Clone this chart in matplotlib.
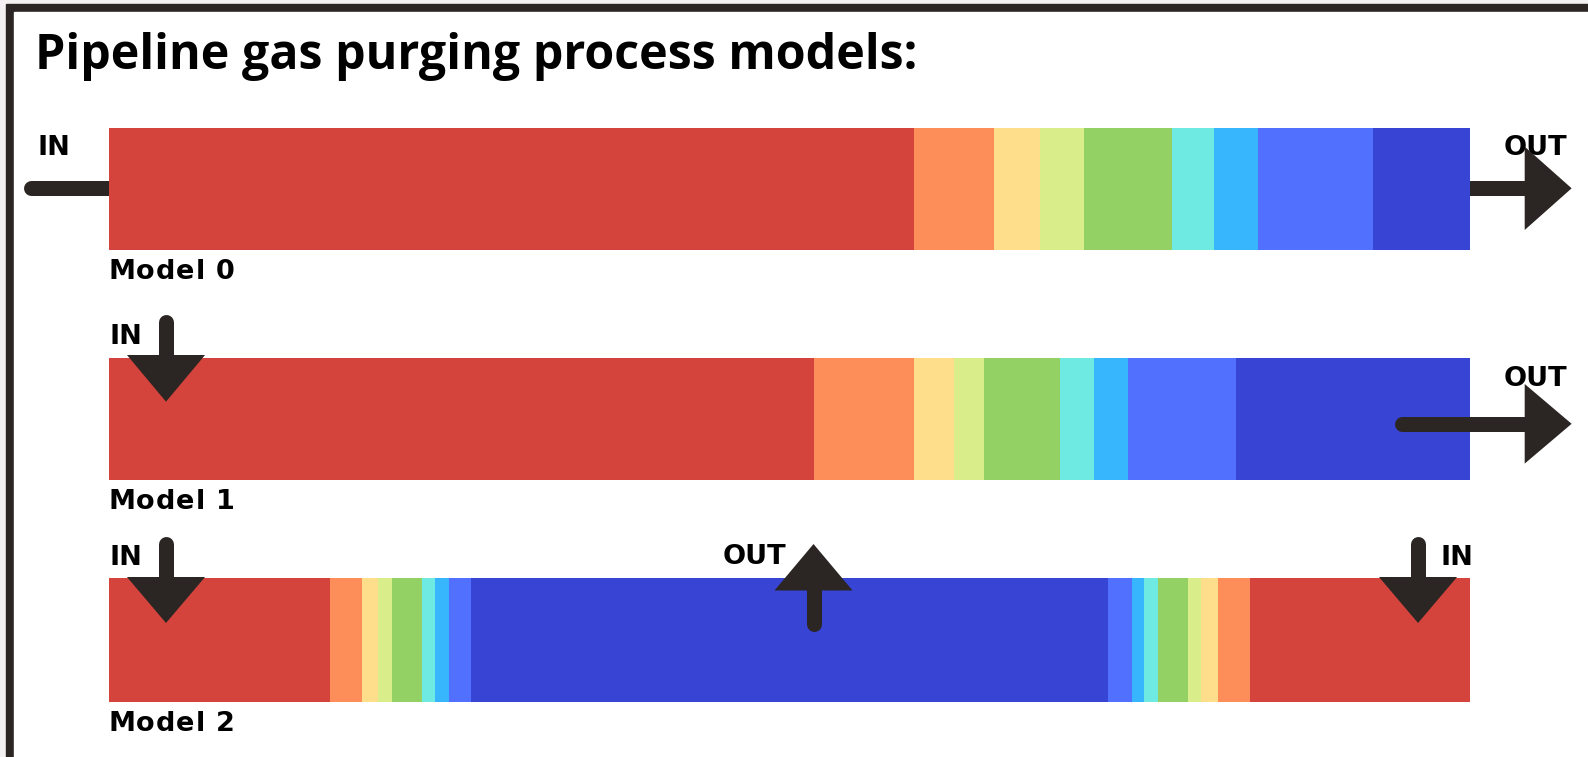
import matplotlib.pyplot as plt
from matplotlib.patches import Rectangle
from matplotlib.transforms import IdentityTransform

# segment lengths along each pipe (% of pipe length), one colour level per segment
model0_len = [59.1, 5.9, 3.4, 3.2, 6.5, 3.1, 3.2, 8.5, 7.1]
model1_len = [51.8, 7.3, 3.0, 2.2, 5.6, 2.5, 2.5, 7.9, 17.2]
model2_len = [16.2, 2.35, 1.2, 1.0, 2.2, 1.0, 1.0, 1.6, 46.85,
              1.75, 0.9, 1.0, 2.2, 1.0, 1.2, 2.35, 16.2]
model0_lvl = [0, 1, 2, 3, 4, 5, 6, 7, 8]
model1_lvl = [0, 1, 2, 3, 4, 5, 6, 7, 8]
model2_lvl = [0, 1, 2, 3, 4, 5, 6, 7, 8, 7, 6, 5, 4, 3, 2, 1, 0]
model_names = ['Model 0', 'Model 1', 'Model 2']

palette = ['#d4443c', '#fd8e5a', '#fede8a', '#d9ee8b', '#94d164',
           '#6eeae2', '#37b6fe', '#5170fe', '#3844d4']
dark = '#2b2624'

plt.rcParams['font.family'] = ['DejaVu Sans']

W, H = 1588, 757
fig = plt.figure(figsize=(W / 100, H / 100), dpi=100, facecolor='#f3f1f1')

# frame: dark top + left edge, white page
fig.patches.append(Rectangle((6 / W, 0), 1, (H - 4) / H, transform=fig.transFigure,
                             color=dark, zorder=-2))
fig.patches.append(Rectangle((14 / W, 0), 1, (H - 12) / H, transform=fig.transFigure,
                             color='white', zorder=-1))

ax = fig.add_axes([0, 0, 1, 1])
ax.set_facecolor('none')
# 0..100 % of pipe length -> pixels 109.4..1470
scale = (1470 - 109.4) / 100
ax.set_xlim(-109.4 / scale, (W - 109.4) / scale)
ax.set_ylim(H, 0)
ax.axis('off')

renderer = fig.canvas.get_renderer()


def text_w(s, **kw):
    t = fig.text(0, 0, s, **kw)
    w = t.get_window_extent(renderer).width
    t.remove()
    return w


def spaced_text(x, y, s, gap, **kw):
    # letter-spaced text, gap in pixels between characters
    x0, y0 = ax.transData.transform((x, y))
    bar_w = text_w('|', **kw)
    for i, ch in enumerate(s):
        if ch == ' ':
            continue
        dx = (text_w(s[:i] + '|', **kw) - bar_w if i else 0) + i * gap
        ax.text(x0 + dx, y0, ch, transform=IdentityTransform(), **kw)


rows = [(model0_len, model0_lvl, 127.5, 122),
        (model1_len, model1_lvl, 357.5, 122),
        (model2_len, model2_lvl, 577.5, 124)]
for (lens, lvls, top, h), name in zip(rows, model_names):
    left = 0
    for w, l in zip(lens, lvls):
        ax.barh(top + h / 2, w, left=left, height=h, color=palette[l], zorder=2)
        left += w
    spaced_text(-0.1, top + h + 29.5, name, 1.0, fontsize=19.5, fontweight='bold',
                va='baseline', ha='left', color='black')

lw = 10.8


def stem(x, y, z=3):
    ax.plot(x, y, color=dark, lw=lw, solid_capstyle='round', zorder=z)


def head(pts):
    xs, ys = zip(*pts)
    ax.fill(xs, ys, color=dark, lw=0, zorder=4)


hw = 2.87   # half width of a vertical head, in % units
# Model 0
stem([-5.73, 0], [188.3, 188.3], z=1)
stem([100, 104.0], [188.3, 188.3], z=1)
head([(104.02, 146.6), (104.02, 230), (107.47, 188.3)])
# Model 1
stem([4.16, 4.16], [321.5, 356])
head([(4.16 - hw, 355), (4.16 + hw, 355), (4.16, 401.7)])
stem([95.0, 104.0], [423.8, 423.8])
head([(104.02, 384), (104.02, 463.6), (107.47, 423.8)])
# Model 2
for xc in [4.16, 96.18]:
    stem([xc, xc], [543.5, 578])
    head([(xc - hw, 577), (xc + hw, 577), (xc, 623)])
stem([51.75, 51.75], [623.5, 590])
head([(51.75 - hw, 590.5), (51.75 + hw, 590.5), (51.75, 544)])

lab = dict(fontsize=19.5, fontweight='bold', va='baseline', ha='left', color='black', zorder=3)
ax.text(-5.32, 155, 'IN', **lab)
ax.text(102.49, 155, 'OUT', **lab)
ax.text(0, 343.5, 'IN', **lab)
ax.text(102.49, 386.5, 'OUT', **lab)
ax.text(0, 565, 'IN', **lab)
ax.text(97.8, 565, 'IN', **lab)
ax.text(45.1, 564, 'OUT', **lab)

ax.text(-5.47, 69, 'Pipeline gas purging process models:', fontsize=34.8,
        fontweight='bold', va='baseline', ha='left', color='black',
        family=['Open Sans', 'DejaVu Sans'])

fig.savefig('out.png', dpi=100, facecolor=fig.get_facecolor())
